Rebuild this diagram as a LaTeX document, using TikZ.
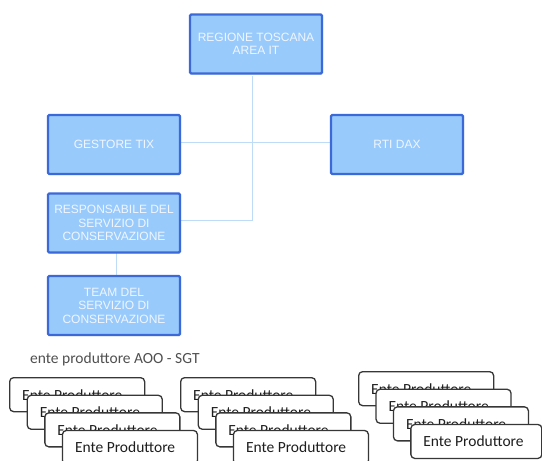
\documentclass[tikz,border=0pt]{standalone}
\usepackage{fontspec}
\newfontfamily\arialf{Liberation Sans}
\newfontfamily\calib{Carlito}
\usetikzlibrary{shadows}
\definecolor{boxfill}{RGB}{153,202,252}
\definecolor{boxedge}{RGB}{60,105,218}
\definecolor{boxtext}{RGB}{240,246,255}
\definecolor{connc}{RGB}{190,220,245}
\definecolor{entedge}{RGB}{55,55,55}
\definecolor{enttext}{RGB}{30,30,30}
\definecolor{headtext}{RGB}{80,80,80}
\tikzset{
  bluebox/.style={rectangle, draw=boxedge, line width=2.2pt, fill=boxfill,
    rounded corners=1.2pt, minimum width=132pt, minimum height=59pt,
    align=center, text=boxtext, font=\arialf\fontsize{12}{13.5}\selectfont,
    inner sep=1pt,
    drop shadow={shadow xshift=1pt, shadow yshift=-1pt, opacity=0.25, fill=gray}},
  conn/.style={draw=connc, line width=0.9pt},
  entebox/.style={rectangle, draw=entedge, line width=1.3pt, fill=white,
    rounded corners=4pt, minimum width=135pt, minimum height=34pt,
    anchor=north west, inner sep=0pt},
  entelabel/.style={anchor=base west, text=enttext, inner sep=0pt,
    font=\calib\fontsize{15.5}{17}\selectfont},
  heading/.style={anchor=base west, text=headtext, inner sep=0pt,
    font=\calib\fontsize{15.5}{17}\selectfont}
}
\begin{document}
\begin{tikzpicture}[x=1pt, y=-1pt]
\useasboundingbox (0,0) rectangle (542,461);
\fill[white] (0,0) rectangle (542,461);

\coordinate (top) at (252,76);
\coordinate (bend) at (252,220);
\coordinate (gl) at (181,142);
\coordinate (rl) at (330,142);
\draw[conn] (top) -- (bend) -- (181,220);
\draw[conn] (gl) -- (rl);
\draw[conn] (116,253) -- (116,275);

\node[bluebox] (reg) at (256,44) {REGIONE TOSCANA\\AREA IT};
\node[bluebox] (ges) at (114,144.5) {GESTORE TIX};
\node[bluebox] (rti) at (397,144.5) {RTI DAX};
\node[bluebox] (resp) at (114,223) {RESPONSABILE DEL\\SERVIZIO DI\\CONSERVAZIONE};
\node[bluebox] (team) at (114,305.5) {TEAM DEL\\SERVIZIO DI\\CONSERVAZIONE};

% heading
\node[heading] (head) at (30,363) {ente produttore AOO - SGT};

% group 1
\foreach \i/\nm in {0/a1,1/a2,2/a3,3/a4}{
  \node[entebox] (\nm) at ({9+17.6*\i},{377+17.6*\i}) {};
  \node[entelabel] (\nm-t) at ([xshift=13pt,yshift=-23pt]\nm.north west) {Ente Produttore};
}
% group 2
\foreach \i/\nm in {0/b1,1/b2,2/b3,3/b4}{
  \node[entebox] (\nm) at ({180+17.6*\i},{377+17.6*\i}) {};
  \node[entelabel] (\nm-t) at ([xshift=13pt,yshift=-23pt]\nm.north west) {Ente Produttore};
}
% group 3
\foreach \i/\nm/\w in {0/c1/135,1/c2/135,2/c3/135,3/c4/131}{
  \node[entebox, minimum width=\w pt] (\nm) at ({358+17.4*\i},{371+17.6*\i}) {};
  \node[entelabel] (\nm-t) at ([xshift=13pt,yshift=-23pt]\nm.north west) {Ente Produttore};
}
\end{tikzpicture}
\end{document}
